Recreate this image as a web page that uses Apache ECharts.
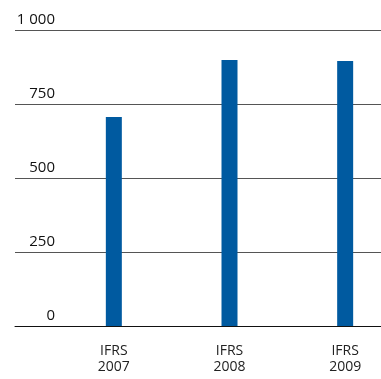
<!DOCTYPE html>
<html>
<head>
  <meta charset="utf-8">
  <title>IFRS</title>
  <script src="https://cdn.jsdelivr.net/npm/echarts@6/dist/echarts.min.js"></script>
</head>
<body style="margin:0">
  <div id="main" style="width:381px;height:379px;"></div>
  <script type="text/javascript">
    var categories = ['IFRS\n2007', 'IFRS\n2008', 'IFRS\n2009'];
    var values = [706, 899, 895];
    var ticks = [0, 250, 500, 750, 1000];
    var tickLabels = { 0: '0', 250: '250', 500: '500', 750: '750', 1000: '1 000' };

    var myChart = echarts.init(document.getElementById('main'));
    var font = '"Open Sans", sans-serif';

    option = {
      animation: false,
      // grid 0 carries the gridlines across the full width, grid 1 the bars
      grid: [
        { left: 15, right: 0, top: 30, bottom: 53, outerBoundsMode: 'none' },
        { left: 56, right: -22, top: 30, bottom: 53, outerBoundsMode: 'none' }
      ],
      xAxis: [
        {
          gridIndex: 0, type: 'value', min: 0, max: 1,
          axisLine: { show: true, onZero: false, lineStyle: { color: '#111', width: 1 } },
          axisTick: { show: false }, axisLabel: { show: false }, splitLine: { show: false }
        },
        {
          gridIndex: 1, type: 'category', data: categories,
          axisLine: { show: false }, axisTick: { show: false },
          axisLabel: { margin: 17, color: '#222', fontFamily: font, fontSize: 14, lineHeight: 16 }
        }
      ],
      yAxis: [
        {
          gridIndex: 0, type: 'value', min: ticks[0], max: ticks[ticks.length - 1], interval: 250,
          axisLine: { show: false }, axisTick: { show: false },
          splitLine: { lineStyle: { color: '#555', width: 1 } },
          axisLabel: {
            margin: -40, align: 'right', verticalAlign: 'bottom', padding: [0, 0, 3, 0],
            color: '#111', fontFamily: font, fontSize: 15,
            formatter: function (v) { return tickLabels[v]; }
          }
        },
        {
          gridIndex: 1, type: 'value', min: ticks[0], max: ticks[ticks.length - 1],
          show: false, splitLine: { show: false }
        }
      ],
      series: [
        {
          type: 'bar', xAxisIndex: 1, yAxisIndex: 1,
          data: values, barWidth: 16,
          itemStyle: { color: '#005aa0' }
        }
      ]
    };

    myChart.setOption(option);
  </script>
</body>
</html>
